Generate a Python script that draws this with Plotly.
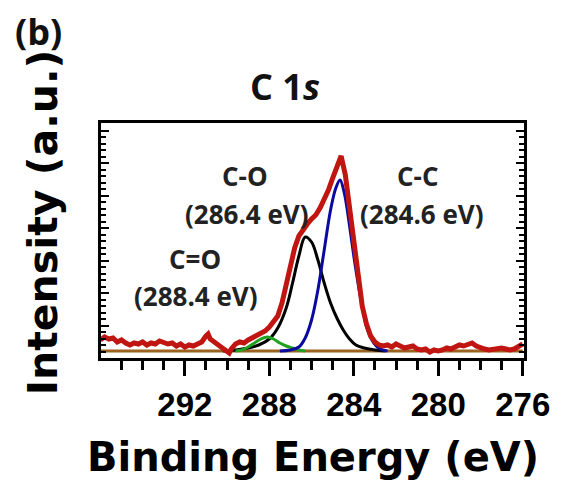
import plotly.graph_objects as go

# ---- data (intensity in arbitrary units) ----
red_x = [296.0, 295.8, 295.6, 295.4, 295.2, 295.0, 294.8, 294.6, 294.4, 294.2,
         294.0, 293.8, 293.6, 293.4, 293.2, 293.0, 292.8, 292.6, 292.4, 292.2,
         292.0, 291.8, 291.6, 291.4, 291.2, 291.0, 290.9, 290.8, 290.6, 290.4,
         290.2, 290.0, 289.9, 289.8, 289.6, 289.4, 289.2, 289.0, 288.8, 288.6,
         288.4, 288.2, 288.0, 287.8, 287.6, 287.4, 287.2, 287.0, 286.8, 286.6,
         286.4, 286.2, 286.0, 285.8, 285.6, 285.4, 285.2, 285.0, 284.8, 284.6,
         284.4, 284.2, 284.0, 283.8, 283.6, 283.4, 283.2, 283.0, 282.8, 282.6,
         282.4, 282.2, 282.0, 281.8, 281.6, 281.4, 281.2, 281.0, 280.8, 280.6,
         280.4, 280.2, 280.0, 279.8, 279.6, 279.4, 279.2, 279.0, 278.8, 278.6,
         278.4, 278.2, 278.0, 277.8, 277.6, 277.4, 277.2, 277.0, 276.8, 276.6,
         276.4, 276.2, 276.0]
red_y = [18, 21, 19, 20, 16, 18, 15, 13, 15, 14,
         16, 13, 15, 14, 17, 16, 14, 15, 12, 14,
         11, 13, 12, 14, 16, 22, 24, 19, 16, 14,
         10, 8, 5, 9, 14, 16, 15, 18, 20, 23,
         25, 27, 31, 36, 42, 55, 75, 94, 110, 122,
         129, 134, 139, 143, 150, 158, 168, 180, 192, 202,
         183, 150, 112, 80, 52, 34, 22, 16, 13, 12,
         13, 11, 14, 12, 10, 11, 12, 9, 8, 9,
         6, 8, 7, 8, 10, 9, 11, 13, 12, 14,
         15, 12, 10, 9, 8, 9, 10, 10, 9, 8,
         9, 11, 14]

cc_x = [287.5, 287.0, 286.6, 286.3, 286.0, 285.7, 285.4, 285.1, 284.85, 284.65,
        284.45, 284.2, 283.95, 283.65, 283.35, 283.05, 282.75, 282.4]
cc_y = [7, 8, 11, 20, 38, 68, 108, 148, 170, 178,
        165, 132, 95, 57, 28, 15, 9, 7]

co_x = [290.2, 289.6, 289.0, 288.5, 288.0, 287.6, 287.2, 286.9, 286.6, 286.3,
        286.0, 285.7, 285.4, 285.1, 284.8, 284.5, 284.2, 283.9, 283.5, 283.0, 282.5]
co_y = [7, 8, 10, 13, 19, 30, 50, 75, 102, 121,
        116, 98, 75, 55, 40, 28, 19, 13, 10, 8, 7]

c_eq_o_x = [289.6, 289.3, 289.0, 288.7, 288.4, 288.1, 287.8, 287.5, 287.2, 286.9, 286.6, 286.3]
c_eq_o_y = [7, 8, 11, 15, 19, 21, 19, 15, 12, 10, 8, 7]

bg_x = [296.0, 276.0]
bg_y = [7, 7]

major_ticks = [292, 288, 284, 280, 276]
major_labels = ["292", "288", "284", "280", "276"]
minor_ticks = [295, 294, 293, 291, 290, 289, 287, 286, 285, 283, 282, 281, 279, 278, 277]

# ---- figure ----
fig = go.Figure()
fig.add_trace(go.Scatter(x=bg_x, y=bg_y, mode="lines", line=dict(color="#9A6320", width=3)))
fig.add_trace(go.Scatter(x=co_x, y=co_y, mode="lines", line=dict(color="black", width=3), line_shape="spline"))
fig.add_trace(go.Scatter(x=c_eq_o_x, y=c_eq_o_y, mode="lines", line=dict(color="#22A022", width=3), line_shape="spline"))
fig.add_trace(go.Scatter(x=cc_x, y=cc_y, mode="lines", line=dict(color="#0A0AA0", width=3), line_shape="spline"))
fig.add_trace(go.Scatter(x=red_x, y=red_y, mode="lines", line=dict(color="#C01510", width=5)))

fig.update_layout(
    width=562, height=481,
    margin=dict(l=101, r=29, t=123, b=123),
    paper_bgcolor="white", plot_bgcolor="white",
    showlegend=False,
)
fig.update_xaxes(
    range=[295.97, 275.94], showgrid=False, zeroline=False,
    showline=True, linecolor="black", linewidth=3, mirror=True,
    ticks="outside", ticklen=15, tickwidth=3, tickcolor="black",
    tickmode="array", tickvals=major_ticks, ticktext=major_labels,
    tickfont=dict(family="Liberation Sans", size=33, color="black", weight="bold"),
    minor=dict(tickmode="array", tickvals=minor_ticks, ticks="outside", ticklen=9,
               tickwidth=3, tickcolor="black"),
)
fig.update_yaxes(
    range=[0, 235], showgrid=False, zeroline=False, showticklabels=False,
    showline=True, linecolor="black", linewidth=3, mirror="ticks",
    ticks="inside", ticklen=8, tickwidth=2, tickcolor="black",
    tick0=0, dtick=32.5,
    minor=dict(ticks="inside", ticklen=5, tickwidth=2, tickcolor="black", dtick=6.5),
)

ann_font = dict(family="Open Sans", size=26, color="#222", weight="bold")
def add_text(text, px, py, font, angle=0):
    fig.add_annotation(text=text, xref="paper", yref="paper",
                       x=(px - 101) / 432, y=(358 - py) / 235,
                       xanchor="center", yanchor="middle", showarrow=False,
                       font=font, textangle=angle)

add_text("C-O", 248, 176, ann_font)
add_text("(286.4 eV)", 250, 214, ann_font)
add_text("C-C", 425, 176, ann_font)
add_text("(284.6 eV)", 429, 214, ann_font)
add_text("C=O", 197, 259, ann_font)
add_text("(288.4 eV)", 198, 296, ann_font)
add_text("C 1<i>s</i>", 289, 86, dict(family="Open Sans", size=36, color="#111", weight="bold"))
add_text("(b)", 37, 31, dict(family="Open Sans", size=36, color="#111", weight="bold"))
add_text("Intensity (a.u.)", 42, 222, dict(family="DejaVu Sans", size=41, color="black", weight="bold"), angle=-90)
add_text("Binding Energy (eV)", 318, 457, dict(family="DejaVu Sans", size=40, color="black", weight="bold"))

fig.write_html("out.html")
